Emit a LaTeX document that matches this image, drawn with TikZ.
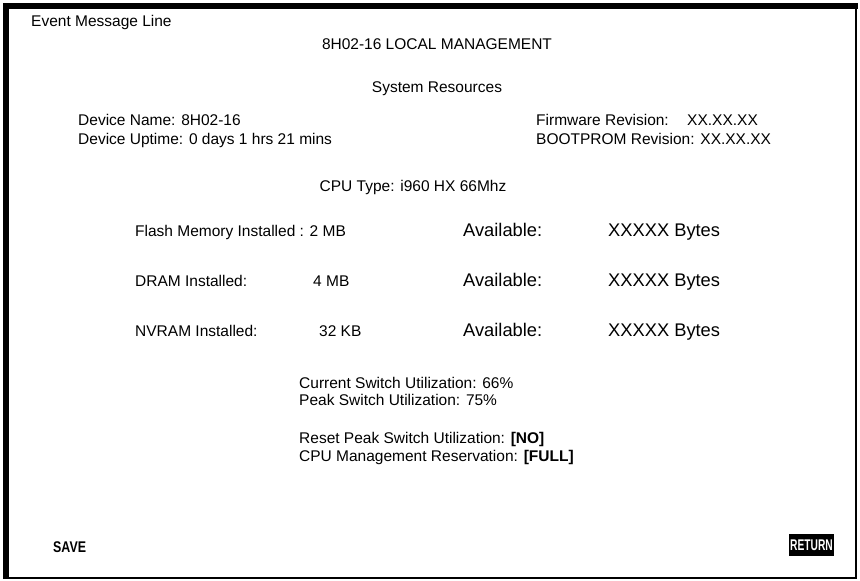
\documentclass[tikz,border=0pt]{standalone}
\usepackage{fontspec}
\setmainfont{Liberation Sans}
\usetikzlibrary{positioning}

\newcommand{\narrowbf}[2]{\scalebox{#1}[1]{\bfseries #2}}

\tikzset{
  txt/.style={anchor=base west, inner sep=0pt, font=\fontsize{15.5}{17}\selectfont},
  ctxt/.style={txt, anchor=base},
  bigtxt/.style={txt, font=\fontsize{18.3}{20}\selectfont},
  btn/.style={txt, font=\fontsize{15.5}{17}\selectfont}
}

\begin{document}
\begin{tikzpicture}[x=1pt, y=-1pt]
	    \useasboundingbox (0,0) rectangle (860,581);
	    
	    % screen border
	    \draw[line width=1.6pt] (6,6) rectangle (856,578);
	    \fill (3,3) rectangle (858,9);
	    \fill (3,3) rectangle (9,579);
	    
	    % header lines
	    \node[txt] (evt) at (31,26) {Event Message Line};
	    \node[ctxt] (title) at (437,49) {8H02-16 LOCAL MANAGEMENT};
	    \node[ctxt] (sysres) at (437,92) {System Resources};
	    
	    % device info
	    \node[txt] (devname) at (78,125) {Device Name: 8H02-16};
	    \node[txt] (uptime) at (78,144) {Device Uptime: 0 days 1 hrs 21 mins};
	    \node[txt] (fwrev) at (536,125) {Firmware Revision:};
	    \node[txt] (fwval) at (687,125) {XX.XX.XX};
	    \node[txt] (bootrev) at (536,144) {BOOTPROM Revision: XX.XX.XX};
	    \node[ctxt] (cpu) at (413,191) {CPU Type: i960 HX 66Mhz};
	    
	    % memory rows
	    \node[txt] (flash) at (135,236) {Flash Memory Installed : 2 MB};
	    \node[txt] (dram) at (135,286) {DRAM Installed:};
	    \node[txt] (dramsz) at (313,286) {4 MB};
	    \node[txt] (nvram) at (135,336) {NVRAM Installed:};
	    \node[txt] (nvramsz) at (319,336) {32 KB};
	    \foreach \y/\n in {236/flash,286/dram,336/nvram}
	    {
	      \node[bigtxt] (\n avl) at (463,\y) {Available:};
	      \node[bigtxt] (\n byt) at (608,\y) {XXXXX Bytes};
	    }
	    
	    % utilization
	    \node[txt] (curutil) at (299,388) {Current Switch Utilization: 66\%};
	    \node[txt] (peakutil) at (299,405) {Peak Switch Utilization: 75\%};
	    \node[txt] (reset) at (299,443) {Reset Peak Switch Utilization: \textbf{[NO]}};
	    \node[txt] (cpures) at (299,461) {CPU Management Reservation: \textbf{[FULL]}};
	    
	    % commands
	    \node[btn] (save) at (53,552) {\narrowbf{0.8}{SAVE}};
	    \node[btn, anchor=center, fill=black, text=white, minimum width=45,
	      minimum height=22] (ret) at (811.5,545) {\narrowbf{0.66}{RETURN}};
	  \end{tikzpicture}
\end{document}
